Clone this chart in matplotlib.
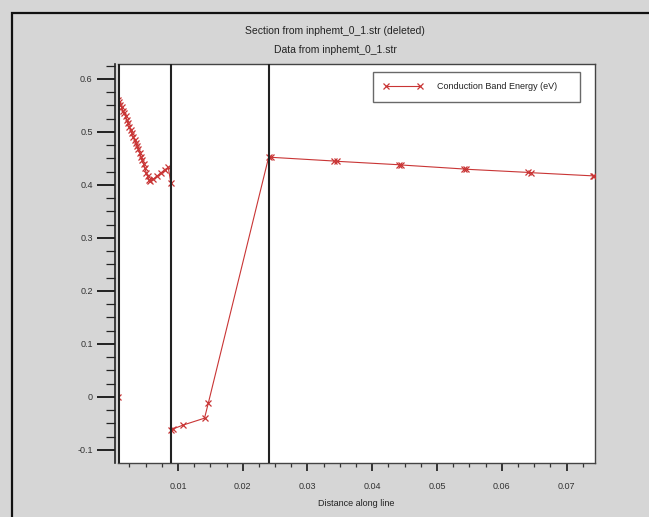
import matplotlib
matplotlib.use("Agg")
import matplotlib.pyplot as plt
from matplotlib.ticker import MultipleLocator, FixedLocator
from matplotlib.patches import Rectangle

plt.rcParams['font.family'] = ['Liberation Sans', 'DejaVu Sans']

# data (distance along line, conduction band energy)
dist = [0.00075, 0.00075, 0.0009, 0.0011, 0.0013, 0.0015, 0.0017, 0.0019, 0.0021,
        0.0023, 0.0025, 0.0027, 0.0029, 0.0031, 0.0033, 0.0035, 0.0037, 0.0039,
        0.0041, 0.0043, 0.0045, 0.0047, 0.0049, 0.0051, 0.0053, 0.0055, 0.0057,
        0.0062, 0.0068, 0.0074, 0.0080, 0.0085, 0.0089, 0.0089, 0.0093, 0.0108,
        0.0141, 0.0147, 0.0240, 0.0244, 0.0341, 0.0345, 0.0441, 0.0445, 0.0541,
        0.0545, 0.0641, 0.0645, 0.0741, 0.0743]
energy = [0.000, 0.560, 0.556, 0.551, 0.546, 0.540, 0.535, 0.529, 0.523,
          0.516, 0.510, 0.503, 0.497, 0.491, 0.485, 0.479, 0.473, 0.467,
          0.460, 0.453, 0.446, 0.439, 0.431, 0.423, 0.416, 0.410, 0.408,
          0.411, 0.417, 0.423, 0.429, 0.433, 0.404, -0.063, -0.060, -0.053,
          -0.040, -0.011, 0.452, 0.452, 0.445, 0.4445, 0.438, 0.4375, 0.430,
          0.4295, 0.4235, 0.423, 0.417, 0.4165]
series_label = 'Conduction Band Energy (eV)'

# region boundaries (vertical lines)
boundaries = [0.00075, 0.0089, 0.0240]

x_ticks = [0.01, 0.02, 0.03, 0.04, 0.05, 0.06, 0.07]
x_ticklabels = ['0.01', '0.02', '0.03', '0.04', '0.05', '0.06', '0.07']
y_ticks = [-0.1, 0, 0.1, 0.2, 0.3, 0.4, 0.5, 0.6]
y_ticklabels = ['-0.1', '0', '0.1', '0.2', '0.3', '0.4', '0.5', '0.6']

W, H = 649, 517
fig = plt.figure(figsize=(W / 100, H / 100), dpi=100)
fig.patch.set_facecolor('#d6d6d6')

# outer frame (runs off the right and bottom edge)
fig.patches.append(Rectangle((12 / W, -0.1), 1.2, (H - 13) / H + 0.1,
                             transform=fig.transFigure, fill=False,
                             edgecolor='#111111', linewidth=1.6))

ax = fig.add_axes([118 / W, (H - 462.7) / H, (595 - 118) / W, (462.7 - 64) / H])
ax.set_facecolor('white')

red = '#c93535'
ax.plot(dist, energy, color=red, linewidth=0.8, marker='x', markersize=5,
        markeredgewidth=0.9, label=series_label, zorder=3)

for b in boundaries:
    ax.axvline(b, color='#222222', linewidth=1.5 if b > 0.001 else 2.2, zorder=4)

ax.set_xlim(0.00074, 0.0744)
ax.set_ylim(-0.124, 0.628)

ax.xaxis.set_major_locator(FixedLocator(x_ticks))
ax.set_xticklabels(x_ticklabels)
ax.xaxis.set_minor_locator(MultipleLocator(0.0025))
ax.yaxis.set_major_locator(FixedLocator(y_ticks))
ax.set_yticklabels(y_ticklabels)
ax.yaxis.set_minor_locator(MultipleLocator(0.025))

ax.tick_params(axis='x', which='major', length=6, width=1.4, pad=8,
               labelsize=6.5, labelcolor='#333333', color='#333333')
ax.tick_params(axis='x', which='minor', length=3, width=0.9, color='#333333')
ax.tick_params(axis='y', which='major', length=13, width=1.4, pad=3,
               labelsize=6.5, labelcolor='#333333', color='#222222')
ax.tick_params(axis='y', which='minor', length=6.5, width=0.9, color='#222222')

for s in ['top', 'right', 'bottom']:
    ax.spines[s].set_color('#444444')
    ax.spines[s].set_linewidth(1.0)
ax.spines['left'].set_position(('outward', 2.2))
ax.spines['left'].set_color('#222222')
ax.spines['left'].set_linewidth(1.2)

ax.set_xlabel('Distance along line', fontsize=6.5, color='#222222', labelpad=6)

fig.text(335 / W, 1 - 31 / H, 'Section from inphemt_0_1.str (deleted)',
         ha='center', va='center', fontsize=7.5, color='#222222')
fig.text(335 / W, 1 - 50 / H, 'Data from inphemt_0_1.str',
         ha='center', va='center', fontsize=7.5, color='#222222')

leg = ax.legend(loc='upper right', bbox_to_anchor=((580 - 118) / (595 - 118), 1 - (72 - 64) / (462.7 - 64)),
                fontsize=6.5, frameon=True, fancybox=False, borderpad=1.15,
                numpoints=2, handlelength=4.3, handletextpad=1.6, borderaxespad=0)
leg.get_frame().set_edgecolor('#444444')
leg.get_frame().set_linewidth(1.0)
for t in leg.get_texts():
    t.set_color('#222222')
    t.set_text(t.get_text() + '     ')

fig.savefig('out.png', dpi=100, facecolor=fig.get_facecolor())
